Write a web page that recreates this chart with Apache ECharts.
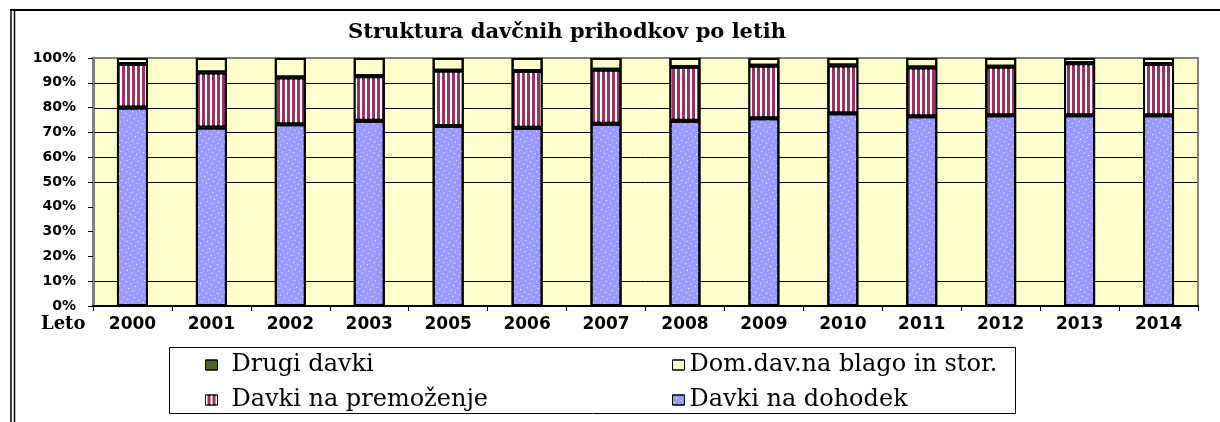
<!DOCTYPE html>
<html>
<head>
<meta charset="utf-8">
<script src="https://cdn.jsdelivr.net/npm/echarts@6/dist/echarts.min.js"></script>
<style>
  html, body { margin: 0; padding: 0; background: #fff; }
  #main { width: 1220px; height: 422px; }
</style>
</head>
<body>
<div id="main"></div>
<script>
var years = ['2000', '2001', '2002', '2003', '2005', '2006', '2007', '2008', '2009', '2010', '2011', '2012', '2013', '2014'];

// shares in %
var dohodek = [80.0, 72.0, 73.3, 74.7, 72.6, 71.9, 73.5, 74.7, 75.7, 77.7, 76.5, 76.9, 76.9, 76.9];
var premozenje = [17.6, 22.2, 18.8, 17.9, 22.3, 22.9, 21.8, 21.7, 21.2, 19.3, 19.7, 19.6, 21.0, 20.7];
var domDav = [2.4, 5.8, 7.9, 7.4, 5.1, 5.2, 4.7, 3.6, 3.1, 3.0, 3.8, 3.5, 2.1, 2.4];
var drugi = [0, 0, 0, 0, 0, 0, 0, 0, 0, 0, 0, 0, 0, 0];

// the original only draws these horizontal grid lines
var gridLevels = [10, 50, 60, 70, 80, 90];

var chart = echarts.init(document.getElementById('main'), null, { renderer: 'canvas' });

// white dots on blue, white stripes on purple
var dots = { symbol: 'rect', color: '#ffffff', symbolSize: 1, dashArrayX: [1, 4], dashArrayY: [1, 4] };
var stripes = { symbol: 'rect', color: '#ffffff', symbolSize: 1, dashArrayX: [2, 3], dashArrayY: [10, 0] };
var noDecal = { symbol: 'rect', color: 'rgba(0,0,0,0)', symbolSize: 1, dashArrayX: [1, 0], dashArrayY: [1, 0] };

function barSeries(name, data, color, decal, bw) {
  return {
    name: name,
    type: 'bar',
    stack: 'total',
    barWidth: 31,
    data: data,
    itemStyle: {
      color: color,
      decal: decal,
      borderColor: '#000',
      borderWidth: bw
    }
  };
}

var decor = [
  { id: 'top', type: 'line', shape: { x1: 10, y1: 10, x2: 1220, y2: 10 }, style: { stroke: '#000', lineWidth: 2 } },
  { id: 'left1', type: 'line', shape: { x1: 11, y1: 10, x2: 11, y2: 422 }, style: { stroke: '#000', lineWidth: 1.5 } },
  { id: 'left2', type: 'line', shape: { x1: 14.5, y1: 10, x2: 14.5, y2: 422 }, style: { stroke: '#000', lineWidth: 1.5 } },
  { id: 'legbox', type: 'rect', z: 0, shape: { x: 169.5, y: 347.5, width: 846, height: 66 }, style: { fill: '#fff', stroke: '#000', lineWidth: 1 } },
  { id: 'leto', type: 'text', left: 41, top: 315, style: { text: 'Leto', fontFamily: 'DejaVu Serif', fontWeight: 'bold', fontSize: 18, fill: '#000' } }
];

var option = {
  animation: false,
  aria: { enabled: true, decal: { show: true } },
  title: {
    text: 'Struktura davčnih prihodkov po letih',
    left: 562,
    top: 17,
    textAlign: 'center',
    textStyle: {
      fontFamily: 'DejaVu Serif',
      fontWeight: 'bold',
      fontSize: 21,
      color: '#000'
    }
  },
  graphic: decor,
  legend: [
    {
      data: ['Drugi davki', 'Davki na premoženje'],
      orient: 'vertical',
      left: 200,
      top: 346,
      z: 5,
      icon: 'rect',
      itemWidth: 12,
      itemHeight: 10,
      itemGap: 7,
      itemStyle: { borderWidth: 1, borderColor: '#000' },
      textStyle: { fontFamily: 'DejaVu Serif', fontSize: 24, lineHeight: 28, color: '#000', padding: [0, 0, 0, 9] }
    },
    {
      data: ['Dom.dav.na blago in stor.', 'Davki na dohodek'],
      orient: 'vertical',
      left: 667,
      top: 346,
      z: 5,
      icon: 'rect',
      itemWidth: 12,
      itemHeight: 10,
      itemGap: 7,
      itemStyle: { borderWidth: 1, borderColor: '#000' },
      textStyle: { fontFamily: 'DejaVu Serif', fontSize: 24, lineHeight: 28, color: '#000', padding: [0, 0, 0, 0] }
    }
  ],
  grid: {
    left: 93,
    right: 22,
    top: 58,
    bottom: 116,
    show: true,
    backgroundColor: '#ffffcc',
    borderColor: '#808080',
    borderWidth: 2
  },
  xAxis: {
    type: 'category',
    data: years,
    axisLine: { lineStyle: { color: '#000', width: 2 } },
    axisTick: { show: true, length: 5, lineStyle: { color: '#000', width: 1 } },
    axisLabel: {
      margin: 10,
      fontFamily: 'DejaVu Sans',
      fontWeight: 'bold',
      fontSize: 17,
      color: '#000'
    }
  },
  yAxis: {
    type: 'value',
    min: 0,
    max: 100,
    interval: 10,
    axisLine: { show: true, lineStyle: { color: '#808080', width: 3 } },
    axisTick: { show: true, length: 5, lineStyle: { color: '#000', width: 1 } },
    axisLabel: {
      margin: 17,
      fontFamily: 'DejaVu Sans',
      fontWeight: 'bold',
      fontSize: 14,
      color: '#000',
      formatter: '{value}%'
    },
    splitLine: { show: false }
  },
  series: [
    barSeries('Davki na dohodek', dohodek, '#9999ff', dots, 2),
    barSeries('Davki na premoženje', premozenje, '#993366', stripes, 2),
    barSeries('Dom.dav.na blago in stor.', domDav, '#ffffcc', noDecal, 2),
    barSeries('Drugi davki', drugi, '#4f6228', noDecal, 0)
  ]
};

chart.setOption(option);

// the selected grid lines, placed with the axis scale
var rect = chart.getModel().getComponent('grid', 0).coordinateSystem.getRect();
var gridLines = gridLevels.map(function (v, i) {
  var y = Math.round(chart.convertToPixel({ yAxisIndex: 0 }, v)) + 0.5;
  return {
    id: 'gl' + i,
    type: 'line',
    z: 1,
    silent: true,
    shape: { x1: rect.x + 1.5, y1: y, x2: rect.x + rect.width - 1, y2: y },
    style: { stroke: '#000', lineWidth: 1 }
  };
});
chart.setOption({ graphic: decor.concat(gridLines) });
</script>
</body>
</html>
